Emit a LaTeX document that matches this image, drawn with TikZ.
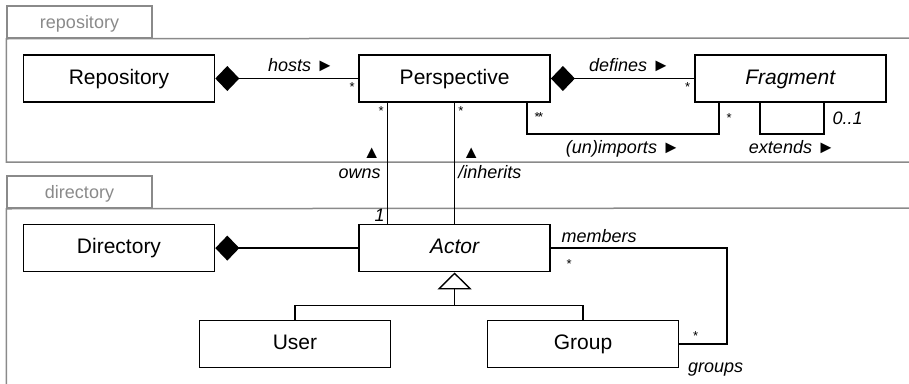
\documentclass[tikz,border=0pt]{standalone}
\usepackage{fontspec}
\setmainfont{Liberation Sans}
\usepackage{tikz}
\usetikzlibrary{arrows.meta, positioning, calc}
\definecolor{pkggray}{HTML}{8A8A8A}

\begin{document}
\begin{tikzpicture}[x=1pt, y=-1pt,
    class/.style={draw, line width=1.6pt, minimum width=191pt, minimum height=47pt, inner sep=0pt,
        text height=15pt, text depth=4pt, font=\fontsize{21}{25}\selectfont},
    abstract/.style={class, font=\fontsize{21}{25}\selectfont\itshape},
    tab/.style={draw=pkggray, line width=1.5pt, minimum width=145pt, minimum height=32pt, inner sep=0pt,
        text height=13pt, text depth=0pt, text=pkggray, font=\fontsize{18}{20}\selectfont},
    frame/.style={draw=pkggray, line width=1.5pt},
    assoc/.style={line width=1.4pt},
    comp/.style={assoc, {Diamond[length=24pt, width=25pt]}-},
    role/.style={font=\fontsize{18}{20}\selectfont\itshape, inner sep=2pt},
    mult/.style={font=\fontsize{13}{14}\selectfont, inner sep=3pt}
]
\useasboundingbox (0,0) rectangle (909,383);

% packages
\node[tab] (repotab) at (79.5,22) {repository};
\draw[frame] (909,38) -- (repotab.south west) |- (909,162);
\node[tab] (dirtab) at (79.5,192) {directory};
\draw[frame] (909,208) -- (dirtab.south west) -- (dirtab.south west |- 0,390);

% repository classes
\node[class] (repo) at (119,78.5) {Repository};
\node[class, right=143pt of repo] (persp) {Perspective};
\node[abstract, right=143pt of persp] (frag) {Fragment};

% directory classes
\node[class, below=121pt of repo] (dir) {Directory};
\node[abstract, below=121pt of persp] (actor) {Actor};
\node[class] (user) at (295,344) {User};
\node[class] (group) at (583,344) {Group};

% compositions
\draw[comp] (repo.east) -- node[role, pos=0.6, above=4pt] {hosts {\upshape ►}}
    node[mult, pos=1, below left] {*} (persp.west);
\draw[comp] (persp.east) -- node[role, pos=0.55, above=4pt] {defines {\upshape ►}}
    node[mult, pos=1, below left] {*} (frag.west);
\draw[comp] (dir.east) -- (actor.west);

% perspective -- actor
\coordinate (ownsA) at ($(persp.south west)+(29,0)$);
\coordinate (ownsB) at ($(actor.north west)+(29,0)$);
\draw[assoc] (ownsA) -- node[role, left=4pt, align=right] {{\upshape ▲}\\owns}
    node[mult, pos=0, below left] {*} node[role, pos=1, above left] {1} (ownsB);
\draw[assoc] (persp.south) -- node[role, right=1pt, align=left] {\hspace{4pt}{\upshape ▲}\\/inherits}
    node[mult, pos=0, below right] {*} (actor.north);

% imports
\coordinate (impA) at ($(persp.south east)+(-24,0)$);
\coordinate (impB) at ($(frag.south west)+(25,0)$);
\draw[assoc] (impA) -- node[mult, pos=0.45, right=4pt] {*\kern-1.5pt*} ++(0,31) -|
    node[role, pos=0.25, below=4pt] {(un)imports {\upshape ►}}
    node[mult, pos=0.75, right=4pt] {*} (impB);

% extends
\coordinate (extA) at ($(frag.south west)+(66,0)$);
\coordinate (extB) at ($(frag.south west)+(130,0)$);
\draw[assoc] (extA) -- ++(0,31) -|
    node[role, pos=0.25, below=4pt] {extends {\upshape ►}}
    node[role, pos=0.75, right=6pt] {0..1} (extB);

% members / groups
\draw[assoc] (actor.east) -- node[role, pos=0, above right, xshift=8pt, yshift=3pt] {members}
    node[mult, pos=0, below right, xshift=12pt, yshift=-8pt] {*} ++(176,0) |-
    node[mult, pos=1, above right, xshift=10pt] {*}
    node[role, pos=1, below right, xshift=6pt, yshift=-16pt] {groups} (group.east);

% generalization
\coordinate (gen) at ($(actor.south)+(0,33)$);
\draw[assoc] (user.north) |- (gen) -| (group.north);
\draw[assoc, -{Triangle[open, length=17pt, width=34pt]}] (gen) -- (actor.south);

\end{tikzpicture}
\end{document}
